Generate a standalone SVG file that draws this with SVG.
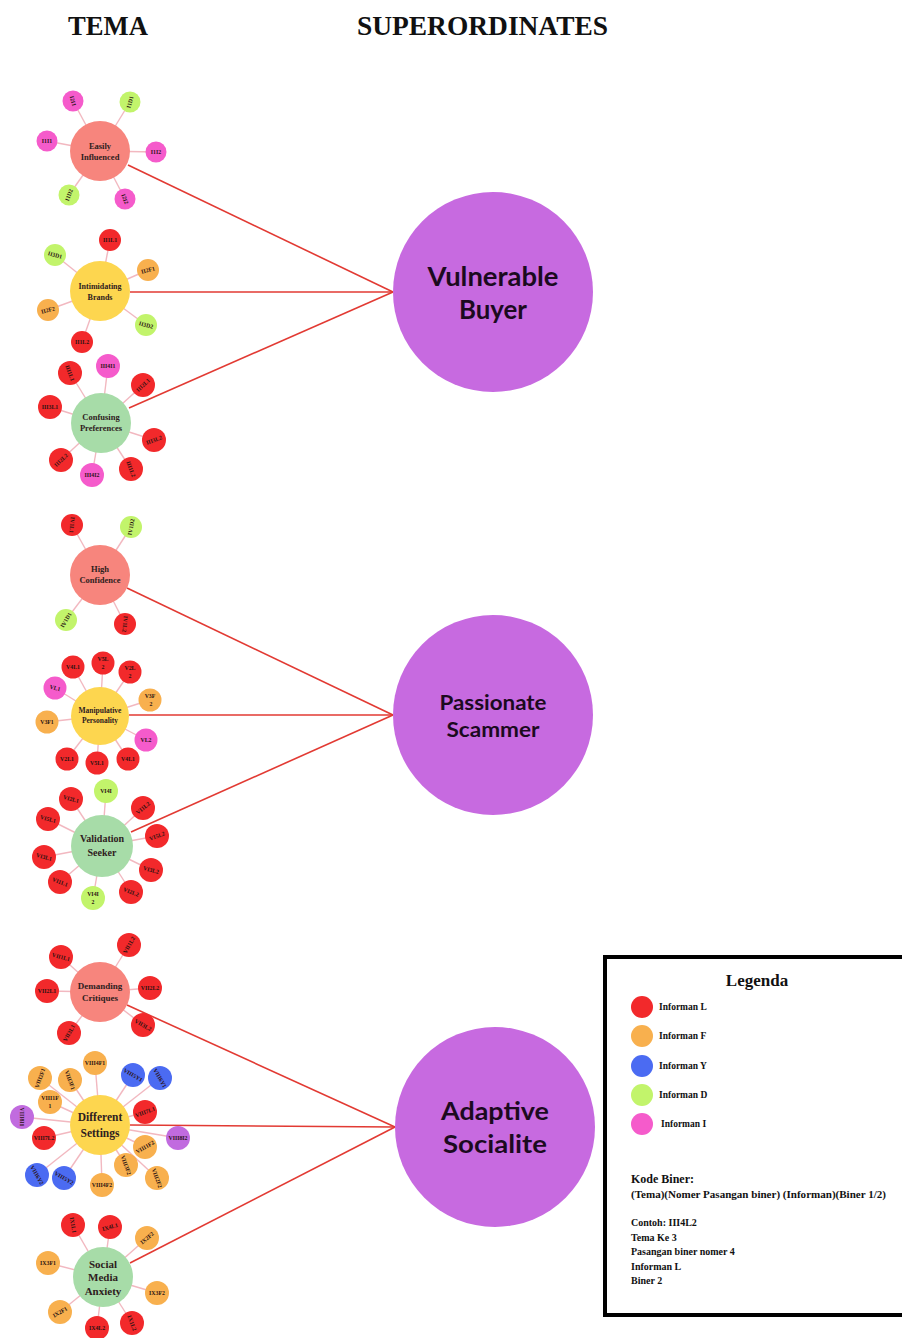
<svg xmlns="http://www.w3.org/2000/svg" width="902" height="1338" viewBox="0 0 902 1338">
<style>
.red{fill:#F2292B}.org{fill:#F8B04E}.grn{fill:#C2F46B}.pnk{fill:#F55BCB}.blu{fill:#4B6BF2}.pur{fill:#C16BDF}
.sal{fill:#F7857D}.yel{fill:#FDD64F}.lgr{fill:#A7DCA8}.sup{fill:#C76AE0}
.sp{stroke:#F2B8C0;stroke-width:1.4}
.rl{stroke:#E23A33;stroke-width:1.6}
.s{font-family:"Liberation Serif",serif;font-weight:bold;font-size:5.8px;fill:#2a1212;text-anchor:middle;dominant-baseline:central}
.t{font-family:"Liberation Serif",serif;font-weight:bold;fill:#2e2020;text-anchor:middle}
.h{font-family:"Liberation Serif",serif;font-weight:bold;font-size:28px;fill:#111}
.sl{font-family:"Lato","DejaVu Sans",sans-serif;font-weight:bold;fill:#1c0a1f;text-anchor:middle}
.lg{font-family:"Liberation Serif",serif;font-weight:bold;fill:#111}
</style>
<rect width="902" height="1338" fill="#fff"/>
<text class="h" x="68" y="35" textLength="80" lengthAdjust="spacingAndGlyphs">TEMA</text>
<text class="h" x="357" y="35" textLength="251" lengthAdjust="spacingAndGlyphs">SUPERORDINATES</text>
<g id="connectors">
<line class="rl" x1="128" y1="165" x2="393" y2="292"/>
<line class="rl" x1="130" y1="292" x2="393" y2="292"/>
<line class="rl" x1="129" y1="408" x2="393" y2="292"/>
<line class="rl" x1="127" y1="588" x2="393" y2="715"/>
<line class="rl" x1="129" y1="715" x2="393" y2="715"/>
<line class="rl" x1="131" y1="832" x2="393" y2="715"/>
<line class="rl" x1="127" y1="1005" x2="395" y2="1127"/>
<line class="rl" x1="130" y1="1125" x2="395" y2="1127"/>
<line class="rl" x1="130" y1="1263" x2="395" y2="1127"/>
<g class="sp">
<line x1="100" y1="151" x2="73" y2="101"/><line x1="100" y1="151" x2="130" y2="102"/><line x1="100" y1="151" x2="47" y2="141"/><line x1="100" y1="151" x2="156" y2="152"/><line x1="100" y1="151" x2="69" y2="195"/><line x1="100" y1="151" x2="125" y2="199"/>
<line x1="100" y1="291" x2="110" y2="240"/><line x1="100" y1="291" x2="148" y2="270"/><line x1="100" y1="291" x2="146" y2="325"/><line x1="100" y1="291" x2="82" y2="342"/><line x1="100" y1="291" x2="48" y2="310"/><line x1="100" y1="291" x2="55" y2="255"/>
<line x1="101" y1="423" x2="70" y2="373"/><line x1="101" y1="423" x2="108" y2="366"/><line x1="101" y1="423" x2="143" y2="385"/><line x1="101" y1="423" x2="50" y2="407"/><line x1="101" y1="423" x2="154" y2="440"/><line x1="101" y1="423" x2="131" y2="469"/><line x1="101" y1="423" x2="92" y2="475"/><line x1="101" y1="423" x2="61" y2="460"/>
<line x1="100" y1="575" x2="72" y2="525"/><line x1="100" y1="575" x2="131" y2="527"/><line x1="100" y1="575" x2="66" y2="620"/><line x1="100" y1="575" x2="125" y2="624"/>
<line x1="100" y1="716" x2="73" y2="667"/><line x1="100" y1="716" x2="103" y2="663"/><line x1="100" y1="716" x2="130" y2="672"/><line x1="100" y1="716" x2="150" y2="700"/><line x1="100" y1="716" x2="55" y2="688"/><line x1="100" y1="716" x2="47" y2="722"/><line x1="100" y1="716" x2="146" y2="740"/><line x1="100" y1="716" x2="67" y2="759"/><line x1="100" y1="716" x2="97" y2="763"/><line x1="100" y1="716" x2="128" y2="759"/>
<line x1="102" y1="846" x2="106" y2="791"/><line x1="102" y1="846" x2="71" y2="799"/><line x1="102" y1="846" x2="143" y2="808"/><line x1="102" y1="846" x2="48" y2="819"/><line x1="102" y1="846" x2="157" y2="836"/><line x1="102" y1="846" x2="44" y2="857"/><line x1="102" y1="846" x2="151" y2="870"/><line x1="102" y1="846" x2="60" y2="882"/><line x1="102" y1="846" x2="93" y2="898"/><line x1="102" y1="846" x2="131" y2="892"/>
<line x1="100" y1="992" x2="61" y2="957"/><line x1="100" y1="992" x2="129" y2="945"/><line x1="100" y1="992" x2="47" y2="991"/><line x1="100" y1="992" x2="150" y2="988"/><line x1="100" y1="992" x2="69" y2="1033"/><line x1="100" y1="992" x2="143" y2="1025"/>
<line x1="100" y1="1125" x2="95" y2="1063"/><line x1="100" y1="1125" x2="40" y2="1078"/><line x1="100" y1="1125" x2="70" y2="1080"/><line x1="100" y1="1125" x2="133" y2="1075"/><line x1="100" y1="1125" x2="160" y2="1078"/><line x1="100" y1="1125" x2="50" y2="1102"/><line x1="100" y1="1125" x2="22" y2="1117"/><line x1="100" y1="1125" x2="145" y2="1112"/><line x1="100" y1="1125" x2="178" y2="1138"/><line x1="100" y1="1125" x2="44" y2="1138"/><line x1="100" y1="1125" x2="145" y2="1147"/><line x1="100" y1="1125" x2="126" y2="1165"/><line x1="100" y1="1125" x2="157" y2="1178"/><line x1="100" y1="1125" x2="37" y2="1175"/><line x1="100" y1="1125" x2="64" y2="1178"/><line x1="100" y1="1125" x2="102" y2="1185"/>
<line x1="103" y1="1277" x2="73" y2="1225"/><line x1="103" y1="1277" x2="110" y2="1227"/><line x1="103" y1="1277" x2="147" y2="1238"/><line x1="103" y1="1277" x2="48" y2="1263"/><line x1="103" y1="1277" x2="157" y2="1293"/><line x1="103" y1="1277" x2="60" y2="1312"/><line x1="103" y1="1277" x2="97" y2="1328"/><line x1="103" y1="1277" x2="132" y2="1323"/>
</g>
</g>

<g id="easily-influenced">
<circle class="sal" cx="100" cy="151" r="30"/>
<text class="t" font-size="8.5" x="100" y="149">Easily</text><text class="t" font-size="8.5" x="100" y="160">Influenced</text>
<circle class="pnk" cx="73" cy="101" r="10.5"/><text class="s" x="73" y="101" transform="rotate(75 73 101)">I2I1</text>
<circle class="grn" cx="130" cy="102" r="10.5"/><text class="s" x="130" y="102" transform="rotate(-75 130 102)">I1D1</text>
<circle class="pnk" cx="47" cy="141" r="10.5"/><text class="s" x="47" y="141">I1I1</text>
<circle class="pnk" cx="156" cy="152" r="10.5"/><text class="s" x="156" y="152">I1I2</text>
<circle class="grn" cx="69" cy="195" r="10.5"/><text class="s" x="69" y="195" transform="rotate(-70 69 195)">I1D2</text>
<circle class="pnk" cx="125" cy="199" r="10.5"/><text class="s" x="125" y="199" transform="rotate(70 125 199)">I2I2</text>
</g>

<g id="intimidating-brands">
<circle class="yel" cx="100" cy="291" r="30"/>
<text class="t" font-size="8" x="100" y="289">Intimidating</text><text class="t" font-size="8" x="100" y="300">Brands</text>
<circle class="red" cx="110" cy="240" r="11"/><text class="s" x="110" y="240">II1L1</text>
<circle class="org" cx="148" cy="270" r="11"/><text class="s" x="148" y="270" transform="rotate(-15 148 270)">II2F1</text>
<circle class="grn" cx="146" cy="325" r="11"/><text class="s" x="146" y="325" transform="rotate(15 146 325)">II3D2</text>
<circle class="red" cx="82" cy="342" r="11"/><text class="s" x="82" y="342">II1L2</text>
<circle class="org" cx="48" cy="310" r="11"/><text class="s" x="48" y="310" transform="rotate(-15 48 310)">II2F2</text>
<circle class="grn" cx="55" cy="255" r="11"/><text class="s" x="55" y="255" transform="rotate(15 55 255)">II3D1</text>
</g>

<g id="confusing-preferences">
<circle class="lgr" cx="101" cy="423" r="30"/>
<text class="t" font-size="8.5" x="101" y="420">Confusing</text><text class="t" font-size="8.5" x="101" y="431">Preferences</text>
<circle class="red" cx="70" cy="373" r="12"/><text class="s" x="70" y="373" transform="rotate(70 70 373)">III1L1</text>
<circle class="pnk" cx="108" cy="366" r="12"/><text class="s" x="108" y="366">III4I1</text>
<circle class="red" cx="143" cy="385" r="12"/><text class="s" x="143" y="385" transform="rotate(-45 143 385)">III2L1</text>
<circle class="red" cx="50" cy="407" r="12"/><text class="s" x="50" y="407">III3L1</text>
<circle class="red" cx="154" cy="440" r="12"/><text class="s" x="154" y="440" transform="rotate(-20 154 440)">III3L2</text>
<circle class="red" cx="131" cy="469" r="12"/><text class="s" x="131" y="469" transform="rotate(70 131 469)">III1L2</text>
<circle class="pnk" cx="92" cy="475" r="12"/><text class="s" x="92" y="475">III4I2</text>
<circle class="red" cx="61" cy="460" r="12"/><text class="s" x="61" y="460" transform="rotate(-45 61 460)">III2L2</text>
</g>

<g id="high-confidence">
<circle class="sal" cx="100" cy="575" r="30"/>
<text class="t" font-size="8.5" x="100" y="572">High</text><text class="t" font-size="8.5" x="100" y="583">Confidence</text>
<circle class="red" cx="72" cy="525" r="11"/><text class="s" x="72" y="525" transform="rotate(95 72 525)">IV1L1</text>
<circle class="grn" cx="131" cy="527" r="11"/><text class="s" x="131" y="527" transform="rotate(-80 131 527)">IV1D2</text>
<circle class="grn" cx="66" cy="620" r="11"/><text class="s" x="66" y="620" transform="rotate(-60 66 620)">IV1D1</text>
<circle class="red" cx="125" cy="624" r="11"/><text class="s" x="125" y="624" transform="rotate(95 125 624)">IV1L2</text>
</g>

<g id="manipulative-personality">
<circle class="yel" cx="100" cy="716" r="29"/>
<text class="t" font-size="7.5" x="100" y="713">Manipulative</text><text class="t" font-size="7.5" x="100" y="723">Personality</text>
<circle class="red" cx="73" cy="667" r="11.5"/><text class="s" x="73" y="667" font-size="6.5">V4L1</text>
<circle class="red" cx="103" cy="663" r="11.5"/><text class="s" x="103" y="659" font-size="6.5">V5L</text><text class="s" x="103" y="667" font-size="6.5">2</text>
<circle class="red" cx="130" cy="672" r="11.5"/><text class="s" x="130" y="668" font-size="6.5">V2L</text><text class="s" x="130" y="676" font-size="6.5">2</text>
<circle class="org" cx="150" cy="700" r="11.5"/><text class="s" x="150" y="696" font-size="6.5">V3F</text><text class="s" x="151" y="704" font-size="6.5">2</text>
<circle class="pnk" cx="55" cy="688" r="11.5"/><text class="s" x="55" y="688" font-size="6.5" transform="rotate(15 55 688)">VL1</text>
<circle class="org" cx="47" cy="722" r="11.5"/><text class="s" x="47" y="722" font-size="6.5">V3F1</text>
<circle class="pnk" cx="146" cy="740" r="11.5"/><text class="s" x="146" y="740" font-size="6.5">VL2</text>
<circle class="red" cx="67" cy="759" r="11.5"/><text class="s" x="67" y="759" font-size="6.5">V2L1</text>
<circle class="red" cx="97" cy="763" r="11.5"/><text class="s" x="97" y="763" font-size="6.5">V5L1</text>
<circle class="red" cx="128" cy="759" r="11.5"/><text class="s" x="128" y="759" font-size="6.5">V4L1</text>
</g>

<g id="validation-seeker">
<circle class="lgr" cx="102" cy="846" r="31"/>
<text class="t" font-size="10" x="102" y="842">Validation</text><text class="t" font-size="10" x="102" y="856">Seeker</text>
<circle class="grn" cx="106" cy="791" r="12"/><text class="s" x="106" y="791">VI4I</text>
<circle class="red" cx="71" cy="799" r="12"/><text class="s" x="71" y="799" transform="rotate(15 71 799)">VI2L1</text>
<circle class="red" cx="143" cy="808" r="12"/><text class="s" x="143" y="808" transform="rotate(-40 143 808)">VI1L2</text>
<circle class="red" cx="48" cy="819" r="12"/><text class="s" x="48" y="819" transform="rotate(15 48 819)">VI5L1</text>
<circle class="red" cx="157" cy="836" r="12"/><text class="s" x="157" y="836" transform="rotate(-20 157 836)">VI5L2</text>
<circle class="red" cx="44" cy="857" r="12"/><text class="s" x="44" y="857" transform="rotate(15 44 857)">VI3L1</text>
<circle class="red" cx="151" cy="870" r="12"/><text class="s" x="151" y="870" transform="rotate(15 151 870)">VI3L2</text>
<circle class="red" cx="60" cy="882" r="12"/><text class="s" x="60" y="882" transform="rotate(20 60 882)">VI1L1</text>
<circle class="grn" cx="93" cy="898" r="12"/><text class="s" x="93" y="894">VI4I</text><text class="s" x="93" y="902">2</text>
<circle class="red" cx="131" cy="892" r="12"/><text class="s" x="131" y="892" transform="rotate(20 131 892)">VI2L2</text>
</g>

<g id="demanding-critiques">
<circle class="sal" cx="100" cy="992" r="30"/>
<text class="t" font-size="9" x="100" y="989">Demanding</text><text class="t" font-size="9" x="100" y="1001">Critiques</text>
<circle class="red" cx="61" cy="957" r="12"/><text class="s" x="61" y="957" transform="rotate(15 61 957)">VII1L1</text>
<circle class="red" cx="129" cy="945" r="12"/><text class="s" x="129" y="945" transform="rotate(-60 129 945)">VII1L2</text>
<circle class="red" cx="47" cy="991" r="12"/><text class="s" x="47" y="991">VII2L1</text>
<circle class="red" cx="150" cy="988" r="12"/><text class="s" x="150" y="988">VII2L2</text>
<circle class="red" cx="69" cy="1033" r="12"/><text class="s" x="69" y="1033" transform="rotate(-60 69 1033)">VII3L1</text>
<circle class="red" cx="143" cy="1025" r="12"/><text class="s" x="143" y="1025" transform="rotate(30 143 1025)">VII3L2</text>
</g>

<g id="different-settings">
<circle class="yel" cx="100" cy="1125" r="30"/>
<text class="t" font-size="11.5" x="100" y="1121">Different</text><text class="t" font-size="11.5" x="100" y="1137">Settings</text>
<circle class="org" cx="95" cy="1063" r="12"/><text class="s" x="95" y="1063" font-size="5">VIII4F1</text>
<circle class="org" cx="40" cy="1078" r="12"/><text class="s" x="40" y="1078" font-size="5" transform="rotate(-70 40 1078)">VIII2F1</text>
<circle class="org" cx="70" cy="1080" r="12"/><text class="s" x="70" y="1080" font-size="5" transform="rotate(70 70 1080)">VIII3F1</text>
<circle class="blu" cx="133" cy="1075" r="12"/><text class="s" x="133" y="1075" font-size="5" transform="rotate(30 133 1075)">VIII5Y1</text>
<circle class="blu" cx="160" cy="1078" r="12"/><text class="s" x="160" y="1078" font-size="5" transform="rotate(60 160 1078)">VIII6Y1</text>
<circle class="org" cx="50" cy="1102" r="12"/><text class="s" x="50" y="1098" font-size="5">VIII1F</text><text class="s" x="50" y="1106" font-size="5">1</text>
<circle class="pur" cx="22" cy="1117" r="12"/><text class="s" x="22" y="1117" font-size="5" transform="rotate(90 22 1117)">VIII8I1</text>
<circle class="red" cx="145" cy="1112" r="12"/><text class="s" x="145" y="1112" font-size="5" transform="rotate(-20 145 1112)">VIII7L1</text>
<circle class="pur" cx="178" cy="1138" r="12"/><text class="s" x="178" y="1138" font-size="5">VIII8I2</text>
<circle class="red" cx="44" cy="1138" r="12"/><text class="s" x="44" y="1138" font-size="5">VIII7L2</text>
<circle class="org" cx="145" cy="1147" r="12"/><text class="s" x="145" y="1147" font-size="5" transform="rotate(-30 145 1147)">VIII1F2</text>
<circle class="org" cx="126" cy="1165" r="12"/><text class="s" x="126" y="1165" font-size="5" transform="rotate(70 126 1165)">VIII3F2</text>
<circle class="org" cx="157" cy="1178" r="12"/><text class="s" x="157" y="1178" font-size="5" transform="rotate(70 157 1178)">VIII2F2</text>
<circle class="blu" cx="37" cy="1175" r="12"/><text class="s" x="37" y="1175" font-size="5" transform="rotate(60 37 1175)">VIII6Y2</text>
<circle class="blu" cx="64" cy="1178" r="12"/><text class="s" x="64" y="1178" font-size="5" transform="rotate(30 64 1178)">VIII5Y2</text>
<circle class="org" cx="102" cy="1185" r="12"/><text class="s" x="102" y="1185" font-size="5">VIII4F2</text>
</g>

<g id="social-media-anxiety">
<circle class="lgr" cx="103" cy="1277" r="30"/>
<text class="t" font-size="11" x="103" y="1268">Social</text><text class="t" font-size="11" x="103" y="1281">Media</text><text class="t" font-size="11" x="103" y="1295">Anxiety</text>
<circle class="red" cx="73" cy="1225" r="12"/><text class="s" x="73" y="1225" transform="rotate(80 73 1225)">IX1L1</text>
<circle class="red" cx="110" cy="1227" r="12"/><text class="s" x="110" y="1227" transform="rotate(-15 110 1227)">IX4L1</text>
<circle class="org" cx="147" cy="1238" r="12"/><text class="s" x="147" y="1238" transform="rotate(-40 147 1238)">IX2F2</text>
<circle class="org" cx="48" cy="1263" r="12"/><text class="s" x="48" y="1263">IX3F1</text>
<circle class="org" cx="157" cy="1293" r="12"/><text class="s" x="157" y="1293">IX3F2</text>
<circle class="org" cx="60" cy="1312" r="12"/><text class="s" x="60" y="1312" transform="rotate(-30 60 1312)">IX2F1</text>
<circle class="red" cx="97" cy="1328" r="12"/><text class="s" x="97" y="1328">IX4L2</text>
<circle class="red" cx="132" cy="1323" r="12"/><text class="s" x="132" y="1323" transform="rotate(70 132 1323)">IX1L2</text>
</g>

<g id="vulnerable-buyer">
<circle class="sup" cx="493" cy="292" r="100"/>
<text class="sl" font-size="26" x="493" y="286" textLength="131" lengthAdjust="spacingAndGlyphs">Vulnerable</text>
<text class="sl" font-size="26" x="493" y="319" textLength="68" lengthAdjust="spacingAndGlyphs">Buyer</text>
</g>
<g id="passionate-scammer">
<circle class="sup" cx="493" cy="715" r="100"/>
<text class="sl" font-size="21" x="493" y="710" textLength="107" lengthAdjust="spacingAndGlyphs">Passionate</text>
<text class="sl" font-size="21" x="493" y="737" textLength="93" lengthAdjust="spacingAndGlyphs">Scammer</text>
</g>
<g id="adaptive-socialite">
<circle class="sup" cx="495" cy="1127" r="100"/>
<text class="sl" font-size="25" x="495" y="1120" textLength="108" lengthAdjust="spacingAndGlyphs">Adaptive</text>
<text class="sl" font-size="25" x="495" y="1153" textLength="104" lengthAdjust="spacingAndGlyphs">Socialite</text>
</g>

<g id="legend">
<rect x="605" y="957" width="310" height="358" fill="#fff" stroke="#000" stroke-width="4"/>
<text class="lg" font-size="17" x="757" y="986" text-anchor="middle">Legenda</text>
<circle class="red" cx="642" cy="1007" r="11"/><text class="lg" font-size="9.5" x="659" y="1010">Informan L</text>
<circle class="org" cx="642" cy="1036" r="11"/><text class="lg" font-size="9.5" x="659" y="1039">Informan F</text>
<circle class="blu" cx="642" cy="1066" r="11"/><text class="lg" font-size="9.5" x="659" y="1069">Informan Y</text>
<circle class="grn" cx="642" cy="1095" r="11"/><text class="lg" font-size="9.5" x="659" y="1098">Informan D</text>
<circle class="pnk" cx="642" cy="1124" r="11"/><text class="lg" font-size="9.5" x="661" y="1127">Informan I</text>
<text class="lg" font-size="12" x="631" y="1183">Kode Biner:</text>
<text class="lg" font-size="9.5" x="631" y="1198" textLength="255" lengthAdjust="spacingAndGlyphs">(Tema)(Nomer Pasangan biner) (Informan)(Biner 1/2)</text>
<text class="lg" font-size="10" x="631" y="1226">Contoh: III4L2</text>
<text class="lg" font-size="10" x="631" y="1241">Tema Ke 3</text>
<text class="lg" font-size="10" x="631" y="1255">Pasangan biner nomer 4</text>
<text class="lg" font-size="10" x="631" y="1270">Informan L</text>
<text class="lg" font-size="10" x="631" y="1284">Biner 2</text>
</g>
</svg>
